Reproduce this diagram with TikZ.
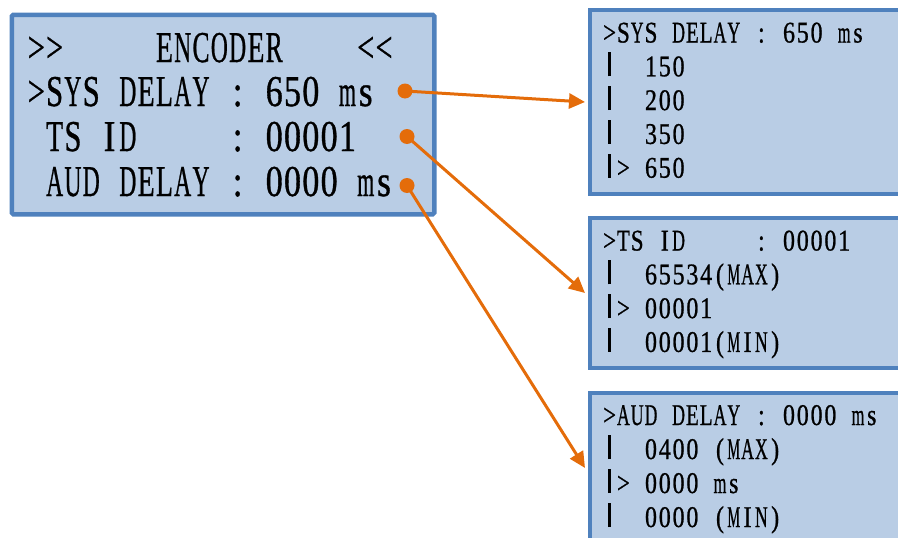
\documentclass[tikz,border=0pt]{standalone}
\usepackage{fontspec}
\setmainfont{Liberation Serif}[FakeStretch=0.8,FakeBold=0.8]
\usetikzlibrary{arrows.meta}

\definecolor{lcdfill}{HTML}{B9CDE5}
\definecolor{lcdedge}{HTML}{4F81BD}
\definecolor{pin}{HTML}{E46C0A}

% fixed-pitch typesetting: every character sits in a cell of width \lcdw,
% glyphs wider than \lcdmax are squeezed to fit
\newlength\lcdw
\newlength\lcdmax
\newsavebox\lcdbox
\newcommand\lcdchar[1]{\sbox\lcdbox{#1}%
  \ifdim\wd\lcdbox>\lcdmax\relax
    \makebox[\lcdw][c]{\resizebox{\lcdmax}{\height}{\usebox\lcdbox}}%
  \else
    \makebox[\lcdw][c]{\usebox\lcdbox}%
  \fi}
\def\lcdstop{\lcdstop}
\def\lcdloop#1{\ifx#1\lcdstop\else\lcdchar{#1}\expandafter\lcdloop\fi}
\newcommand\lcd[1]{\lcdloop#1\lcdstop}
% vertical cursor bar of the menu lists
\newcommand\lcdbar{\hbox{\vrule width 2.4pt height 24pt depth 0pt}}

\newcommand\biglcd{\fontsize{44}{50}\selectfont\setlength\lcdw{18.3pt}\setlength\lcdmax{17pt}}
\newcommand\smalllcd{\fontsize{30}{34}\selectfont\setlength\lcdw{13.8pt}\setlength\lcdmax{12.8pt}}

\begin{document}
\begin{tikzpicture}[x=1pt,y=-1pt,
  panel/.style={draw=lcdedge, fill=lcdfill, rectangle, anchor=north west, inner sep=0pt},
  bigtext/.style={anchor=base west, inner sep=0pt, font=\biglcd},
  smalltext/.style={anchor=base west, inner sep=0pt, font=\smalllcd},
  pindot/.style={circle, fill=pin, minimum size=15pt, inner sep=0pt},
  pinline/.style={draw=pin, line width=3pt, -{Triangle[length=16pt,width=15pt]}}]
\useasboundingbox (0,0) rectangle (898,538);
\clip (0,0) rectangle (898,538);

% main encoder screen
\node[panel, line width=4.5pt, rounded corners=1.5pt, minimum width=422.5pt, minimum height=199.5pt] (enc) at (9.5,12.5) {};
\node[bigtext] (e1) at (27,62)  {\lcd{>>~~~~~ENCODER~~~~<<}};
\node[bigtext] (e2) at (27,106) {\lcd{>SYS~DELAY~:~650~ms}};
\node[bigtext] (e3) at (27,151) {\lcd{~TS~ID~~~~~:~00001}};
\node[bigtext] (e4) at (27,196) {\lcd{~AUD~DELAY~:~0000~ms}};

% sub-menu screens
\node[panel, line width=4pt, minimum width=340pt, minimum height=184pt] (sys) at (588,7.5) {};
\node[panel, line width=4pt, minimum width=340pt, minimum height=150.5pt] (tsid) at (588,215.5) {};
\node[panel, line width=4pt, minimum width=340pt, minimum height=180pt] (aud) at (588,390.5) {};

\node[smalltext] (s1) at (602.5,42.5)  {\lcd{>SYS~DELAY~:~650~ms}};
\node[smalltext] (s2) at (602.5,76.3)  {\lcd{\lcdbar~~150}};
\node[smalltext] (s3) at (602.5,110.1) {\lcd{\lcdbar~~200}};
\node[smalltext] (s4) at (602.5,143.9) {\lcd{\lcdbar~~350}};
\node[smalltext] (s5) at (602.5,177.7) {\lcd{\lcdbar>~650}};

\node[smalltext] (t1) at (602.5,250.5) {\lcd{>TS~ID~~~~~:~00001}};
\node[smalltext] (t2) at (602.5,284.3) {\lcd{\lcdbar~~65534(MAX)}};
\node[smalltext] (t3) at (602.5,318.1) {\lcd{\lcdbar>~00001}};
\node[smalltext] (t4) at (602.5,351.9) {\lcd{\lcdbar~~00001(MIN)}};

\node[smalltext] (a1) at (602.5,425)   {\lcd{>AUD~DELAY~:~0000~ms}};
\node[smalltext] (a2) at (602.5,459)   {\lcd{\lcdbar~~0400~(MAX)}};
\node[smalltext] (a3) at (602.5,493)   {\lcd{\lcdbar>~0000~ms}};
\node[smalltext] (a4) at (602.5,527)   {\lcd{\lcdbar~~0000~(MIN)}};

% connectors from each setting to its sub-menu
\node[pindot] (d1) at (405,91) {};
\node[pindot] (d2) at (407,136.5) {};
\node[pindot] (d3) at (407,185.5) {};
\coordinate (k1) at (585,102);
\coordinate (k2) at (585,293);
\coordinate (k3) at (585,468);
\draw[pinline] (d1.center) -- (k1);
\draw[pinline] (d2.center) -- (k2);
\draw[pinline] (d3.center) -- (k3);
\end{tikzpicture}
\end{document}
